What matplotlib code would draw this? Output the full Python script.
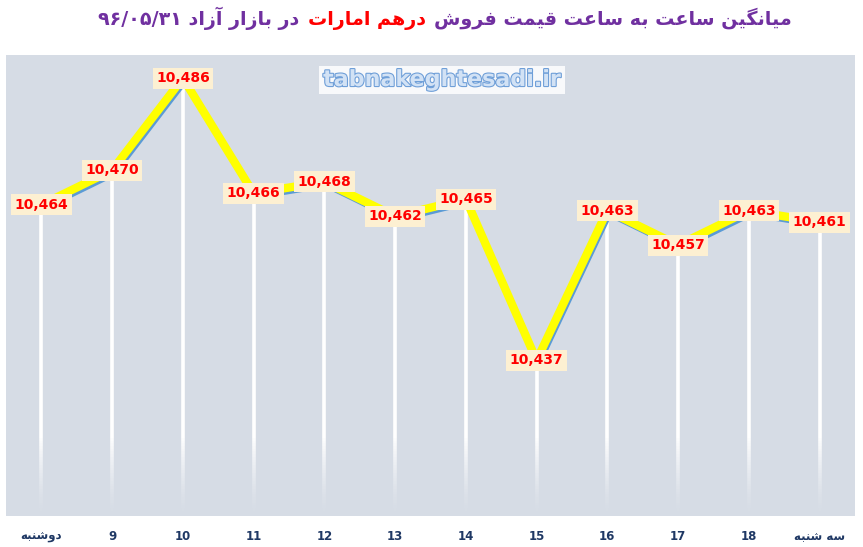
import matplotlib
matplotlib.use("Agg")
import matplotlib.pyplot as plt
import matplotlib.transforms as mtransforms
import matplotlib.patheffects as pe
from matplotlib.offsetbox import TextArea, HPacker, AnchoredOffsetbox

# data
hours = ["دوشنبه", "9", "10", "11", "12", "13", "14", "15", "16", "17", "18", "سه شنبه"]
prices = [10464, 10470, 10486, 10466, 10468, 10462, 10465, 10437, 10463, 10457, 10463, 10461]

title_right = "میانگین ساعت به ساعت قیمت فروش"
title_red = "درهم امارات"
title_left = "در بازار آزاد"
title_date = "۹۶/۰۵/۳۱"

# --- minimal arabic/persian shaping (matplotlib has no bidi/shaping) ---
# char: (isolated, final, initial, medial); right-joining letters have only 2 forms
FORMS = {
    "ا": ("\uFE8D", "\uFE8E"), "آ": ("\uFE81", "\uFE82"),
    "د": ("\uFEA9", "\uFEAA"), "ر": ("\uFEAD", "\uFEAE"),
    "ز": ("\uFEAF", "\uFEB0"), "و": ("\uFEED", "\uFEEE"),
    "ب": ("\uFE8F", "\uFE90", "\uFE91", "\uFE92"),
    "ت": ("\uFE95", "\uFE96", "\uFE97", "\uFE98"),
    "س": ("\uFEB1", "\uFEB2", "\uFEB3", "\uFEB4"),
    "ش": ("\uFEB5", "\uFEB6", "\uFEB7", "\uFEB8"),
    "ع": ("\uFEC9", "\uFECA", "\uFECB", "\uFECC"),
    "ف": ("\uFED1", "\uFED2", "\uFED3", "\uFED4"),
    "ق": ("\uFED5", "\uFED6", "\uFED7", "\uFED8"),
    "م": ("\uFEE1", "\uFEE2", "\uFEE3", "\uFEE4"),
    "ن": ("\uFEE5", "\uFEE6", "\uFEE7", "\uFEE8"),
    "ه": ("\uFEE9", "\uFEEA", "\uFEEB", "\uFEEC"),
    "ی": ("\uFBFC", "\uFBFD", "\uFBFE", "\uFBFF"),
    "گ": ("\uFB92", "\uFB93", "\uFB94", "\uFB95"),
}


def shape(s):
    out = []
    for i, c in enumerate(s):
        if c not in FORMS:
            out.append(c)
            continue
        prev = s[i - 1] if i > 0 else ""
        nxt = s[i + 1] if i + 1 < len(s) else ""
        join_prev = prev in FORMS and len(FORMS[prev]) == 4
        join_next = len(FORMS[c]) == 4 and nxt in FORMS
        f = FORMS[c]
        if join_prev and join_next:
            out.append(f[3])
        elif join_prev:
            out.append(f[1])
        elif join_next:
            out.append(f[2])
        else:
            out.append(f[0])
    return "".join(out)[::-1]


def label(s):
    return s if s.isdigit() else shape(s)


bg = "#d6dce5"
navy = "#1f3864"
purple = "#7030a0"

fig = plt.figure(figsize=(8.63, 5.47), dpi=100)
ax = fig.add_axes([6 / 863, 31 / 547, 849 / 863, 461 / 547])
ax.set_facecolor(bg)
for s in ax.spines.values():
    s.set_visible(False)

x = list(range(len(prices)))
ymin, ymax = 10410, 10490
ax.set_xlim(-0.5, len(prices) - 0.5)
ax.set_ylim(ymin, ymax)

# drop lines, fading out near the bottom
fade_top = 10424
ax.vlines(x, fade_top, prices, color="white", lw=2.6, zorder=1)
steps = 30
for k in range(steps):
    y0 = ymin + (fade_top - ymin) * k / steps
    y1 = ymin + (fade_top - ymin) * (k + 1) / steps
    ax.vlines(x, y0, y1, color="white", lw=2.6, alpha=((k + 1) / steps) ** 1.5,
              zorder=1)

# blue shadow + yellow line
shadow = mtransforms.offset_copy(ax.transData, fig=fig, x=2, y=-3.5, units="dots")
ax.plot(x, prices, color="#5b9bd5", lw=4, transform=shadow, zorder=2)
ax.plot(x, prices, color="#ffff00", lw=6.0, solid_joinstyle="miter", zorder=3)

for xi, v in zip(x, prices):
    ax.text(xi, v, f"{v:,}", ha="center", va="center", color="#ff0000",
            fontsize=10, fontweight="bold", zorder=5,
            bbox=dict(boxstyle="square,pad=0.25", fc="#fdf0d2", ec="none"))

ax.set_yticks([])
ax.set_xticks(x)
ax.set_xticklabels([label(h) for h in hours], fontsize=8.5, fontweight="bold", color=navy)
ax.tick_params(axis="x", length=0, pad=10)

# watermark
fig.text(442 / 863, 1 - 80 / 547, "tabnakeghtesadi.ir", ha="center", va="center",
         fontsize=16, fontweight="bold", color="#d2e2f5",
         path_effects=[pe.withStroke(linewidth=1.6, foreground="#6f9fd8")],
         bbox=dict(boxstyle="square,pad=0.2", fc="white", ec="none", alpha=0.85))

# title: three coloured pieces laid out left to right (RTL text)
tkw = dict(fontsize=13.8, fontweight="bold")
parts = [
    TextArea(title_date + " " + shape(title_left), textprops=dict(color=purple, **tkw)),
    TextArea(shape(title_red), textprops=dict(color="#ff0000", **tkw)),
    TextArea(shape(title_right), textprops=dict(color=purple, **tkw)),
]
box = HPacker(children=parts, align="baseline", pad=0, sep=6)
anch = AnchoredOffsetbox(loc="center", child=box, frameon=False, pad=0,
                         bbox_to_anchor=(445 / 863, 1 - 18 / 547),
                         bbox_transform=fig.transFigure, borderpad=0)
fig.add_artist(anch)

fig.savefig("out.png", dpi=100)
